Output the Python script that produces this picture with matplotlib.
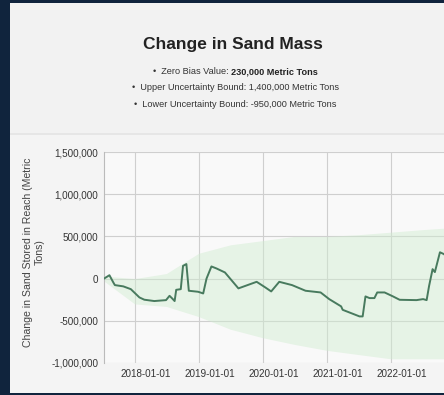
"""Change in sand mass stored in the reach, with uncertainty band."""

import matplotlib

matplotlib.use("Agg")
import matplotlib.dates as mdates
import matplotlib.pyplot as plt
import pandas as pd
from matplotlib.patches import Rectangle
from matplotlib.ticker import FuncFormatter
from matplotlib.transforms import ScaledTranslation

plt.rcParams["font.family"] = ["Liberation Sans", "DejaVu Sans"]

# cumulative change in sand storage (metric tons)
dates = [
    "2017-07-10", "2017-08-10", "2017-09-01", "2017-09-10", "2017-10-28",
    "2017-12-10", "2018-01-28", "2018-02-25", "2018-04-23", "2018-06-29",
    "2018-07-19", "2018-08-03", "2018-08-17", "2018-08-26", "2018-09-21",
    "2018-10-04", "2018-10-23", "2018-11-06", "2018-12-29", "2019-01-27",
    "2019-02-15", "2019-03-15", "2019-04-13", "2019-05-31", "2019-08-16",
    "2019-11-28", "2020-01-16", "2020-02-19", "2020-04-05", "2020-06-17",
    "2020-09-02", "2020-11-27", "2021-01-15", "2021-03-24", "2021-04-02",
    "2021-07-07", "2021-07-25", "2021-08-10", "2021-09-02", "2021-09-30",
    "2021-10-16", "2021-11-27", "2022-01-14", "2022-02-21", "2022-05-28",
    "2022-07-05", "2022-07-25", "2022-08-08", "2022-08-28", "2022-09-10",
    "2022-10-09", "2022-11-01", "2022-11-20",
]
sand_change = [
    0, 40000, -45000, -77000, -92000,
    -125000, -223000, -250000, -266000, -255000,
    -204000, -235000, -266000, -133000, -125000,
    151000, 172000, -144000, -156000, -176000,
    0, 144000, 120000, 73000, -116000,
    -38000, -104000, -152000, -38000, -77000,
    -144000, -164000, -243000, -329000, -370000,
    -448000, -448000, -211000, -231000, -231000,
    -164000, -164000, -211000, -251000, -255000,
    -243000, -255000, -87000, 112000, 77000,
    312000, 290000, 250000,
]

# uncertainty envelope
band_dates = [
    "2017-07-10", "2018-01-01", "2018-07-01", "2019-01-01", "2019-07-01",
    "2020-01-01", "2020-07-01", "2021-01-01", "2021-07-01", "2022-01-01",
    "2022-07-01", "2022-11-20",
]
band_upper = [30000, 0, 60000, 300000, 400000, 450000, 500000, 500000,
              520000, 550000, 580000, 600000]
band_lower = [-30000, -300000, -330000, -450000, -600000, -700000, -780000,
              -850000, -900000, -950000, -950000, -950000]

year_ticks = ["2018-01-01", "2019-01-01", "2020-01-01", "2021-01-01", "2022-01-01"]

title = "Change in Sand Mass"
notes = [
    ("Zero Bias Value: ", "230,000 Metric Tons"),
    ("Upper Uncertainty Bound: 1,400,000 Metric Tons", ""),
    ("Lower Uncertainty Bound: -950,000 Metric Tons", ""),
]

W, H = 444, 395
fig = plt.figure(figsize=(W / 100, H / 100), dpi=100)
fig.patch.set_facecolor("#10243d")


def px_rect(x0, y0, x1, y1, color):
    # rectangle given in pixel coords from top-left
    fig.patches.append(Rectangle((x0 / W, 1 - y1 / H), (x1 - x0) / W, (y1 - y0) / H,
                                 transform=fig.transFigure, facecolor=color,
                                 edgecolor="none", zorder=-5))


px_rect(10, 3, W, 393, "#e6e6e6")
px_rect(10, 3, W, 133, "#f2f2f2")
px_rect(10, 135, W, 393, "#f4f4f4")

fig.text(233 / W, 1 - 44 / H, title, ha="center", va="center",
         fontsize=12.5, fontweight="bold", color="#222222")

renderer = fig.canvas.get_renderer()
line_y = [74, 90, 107]
for (plain, bold), y in zip(notes, line_y):
    t1 = fig.text(0, 1 - y / H, "\u2022  " + plain, ha="left", va="baseline",
                  fontsize=6.6, color="#333333")
    w1 = t1.get_window_extent(renderer).width
    w2 = 0
    t2 = None
    if bold:
        t2 = fig.text(0, 1 - y / H, bold, ha="left", va="baseline",
                      fontsize=6.6, fontweight="bold", color="#222222")
        w2 = t2.get_window_extent(renderer).width
    x0 = 235 - (w1 + w2) / 2
    t1.set_x(x0 / W)
    if t2 is not None:
        t2.set_x((x0 + w1) / W)

ax = fig.add_axes([104 / W, 1 - 363 / H, (475 - 104) / W, (363 - 152) / H])
ax.set_zorder(2)
ax.set_facecolor("#f9f9f9")

d = pd.to_datetime(dates)
bd = pd.to_datetime(band_dates)
ax.fill_between(bd, band_lower, band_upper, color="#cfeccf", alpha=0.45,
                linewidth=0, zorder=1)
ax.plot(d, sand_change, color="#487a5e", linewidth=1.4, zorder=3)

ax.set_xlim(pd.Timestamp("2017-07-10"), pd.Timestamp("2023-04-27"))
ax.set_ylim(-1000000, 1500000)
ax.set_yticks([-1000000, -500000, 0, 500000, 1000000, 1500000])
ax.yaxis.set_major_formatter(FuncFormatter(lambda v, _: f"{int(v):,}"))
ax.set_xticks(pd.to_datetime(year_ticks))
ax.xaxis.set_major_formatter(mdates.DateFormatter("%Y-%m-%d"))

ax.grid(True, color="#cfcfcf", linewidth=0.8, zorder=0)
ax.set_axisbelow(True)
for side in ("top", "right", "bottom"):
    ax.spines[side].set_visible(False)
ax.spines["left"].set_color("#bbbbbb")
ax.tick_params(axis="both", length=0, labelsize=7.1, colors="#333333", pad=4)

# date labels sit a little to the right of their gridlines
shift = ScaledTranslation(11 / 100, 0, fig.dpi_scale_trans)
for lbl in ax.get_xticklabels():
    lbl.set_transform(lbl.get_transform() + shift)

ax.set_ylabel("Change in Sand Stored in Reach (Metric\nTons)",
              fontsize=7.6, color="#444444")
ax.yaxis.set_label_coords((45 - 104) / 371, (363 - 252) / 211)

fig.savefig("out.png", dpi=100, facecolor=fig.get_facecolor())
